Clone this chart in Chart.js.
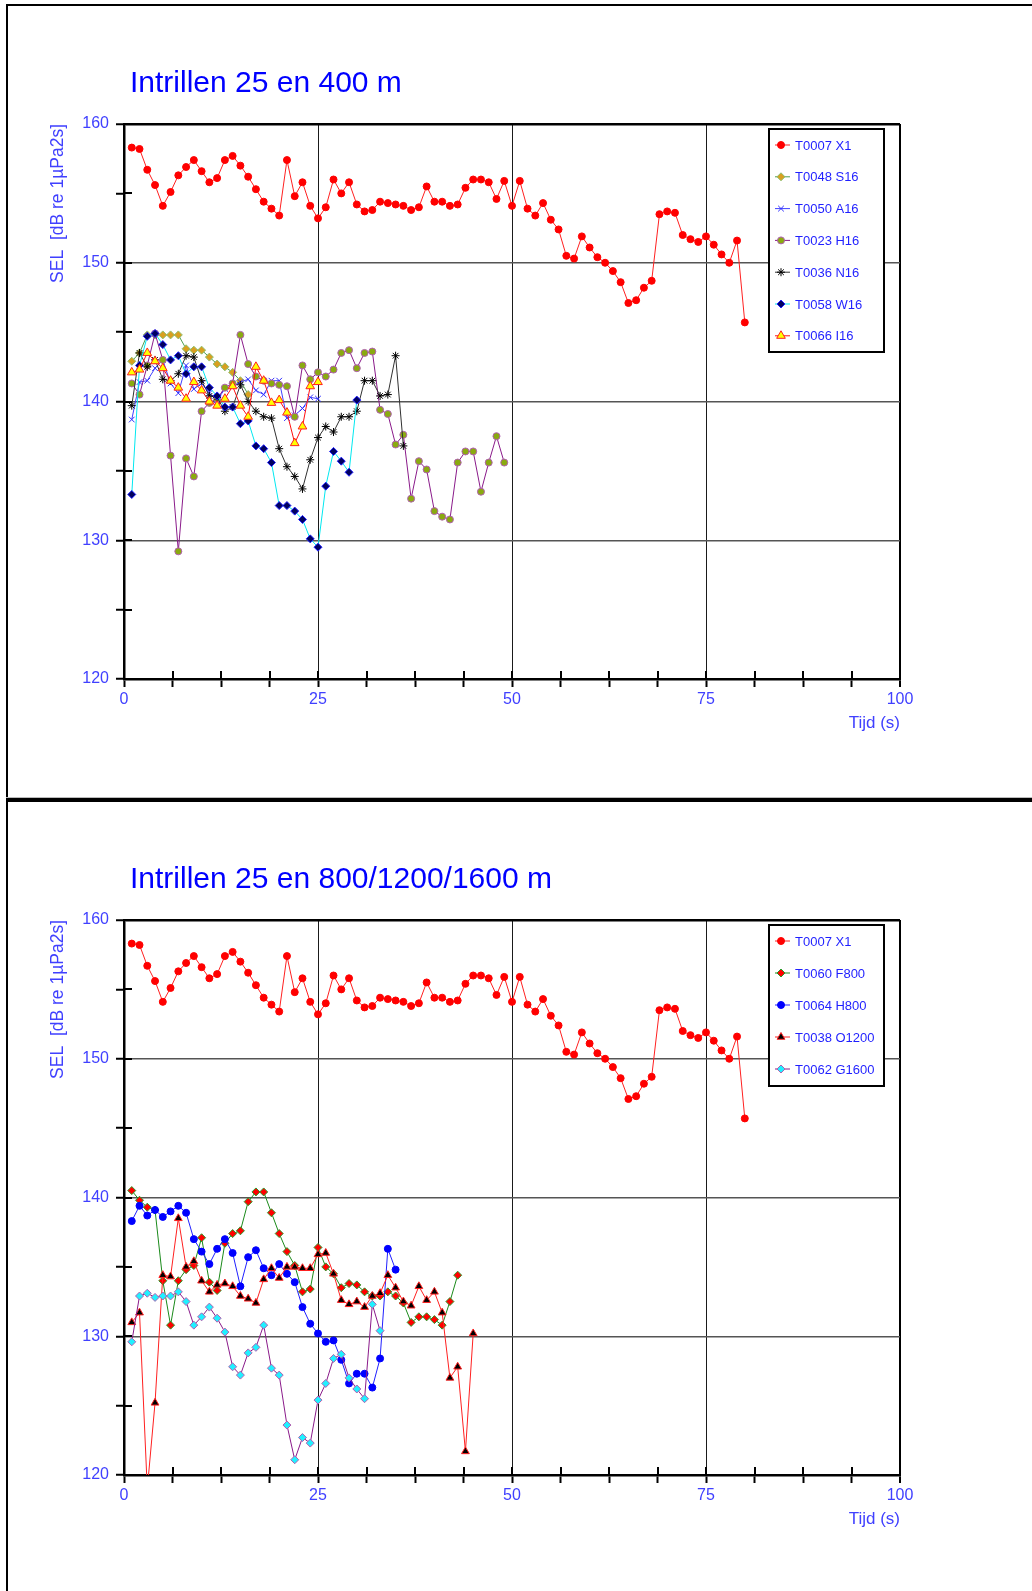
<!DOCTYPE html>
<html>
<head>
<meta charset="utf-8">
<script src="https://cdn.jsdelivr.net/npm/chart.js@4.4.1/dist/chart.umd.min.js"></script>
<style>
    html, body { margin: 0; padding: 0; background: #fff; overflow: hidden; }
    body { width: 1032px; height: 1591px; position: relative; }
    canvas { position: absolute; left: 0; }
    #grafiek1 { top: 0; }
    #grafiek2 { top: 800px; }
    .kader { position: absolute; left: 6px; top: 4px; width: 1200px; height: 1700px;
             border-left: 2px solid #000; border-top: 2px solid #000; pointer-events: none; }
    .scheiding { position: absolute; left: 6px; top: 797px; width: 1200px; height: 4px;
                 background: #000; border-top: 1px solid #bbb; pointer-events: none; }
</style>
</head>
<body>
<div class="kader"></div>
<div class="scheiding"></div>
<canvas id="grafiek1" width="1032" height="800"></canvas>
<canvas id="grafiek2" width="1032" height="791"></canvas>
<script>
// Tijdstippen (s)
const tijd = [1, 2, 3, 4, 5, 6, 7, 8, 9, 10, 11, 12, 13, 14, 15, 16, 17, 18, 19, 20,
    21, 22, 23, 24, 25, 26, 27, 28, 29, 30, 31, 32, 33, 34, 35, 36, 37, 38, 39, 40,
    41, 42, 43, 44, 45, 46, 47, 48, 49, 50, 51, 52, 53, 54, 55, 56, 57, 58, 59, 60,
    61, 62, 63, 64, 65, 66, 67, 68, 69, 70, 71, 72, 73, 74, 75, 76, 77, 78, 79, 80];

// SEL waarden (dB re 1µPa2s)
const t0007X1 = [158.3, 158.2, 156.7, 155.6, 154.1, 155.1, 156.3, 156.9, 157.4, 156.6,
    155.8, 156.1, 157.4, 157.7, 157.0, 156.2, 155.3, 154.4, 153.9, 153.4,
    157.4, 154.8, 155.8, 154.1, 153.2, 154.0, 156.0, 155.0, 155.8, 154.2,
    153.7, 153.8, 154.4, 154.3, 154.2, 154.1, 153.8, 154.0, 155.5, 154.4,
    154.4, 154.1, 154.2, 155.4, 156.0, 156.0, 155.8, 154.6, 155.9, 154.1,
    155.9, 153.9, 153.4, 154.3, 153.1, 152.4, 150.5, 150.3, 151.9, 151.1,
    150.4, 150.0, 149.4, 148.6, 147.1, 147.3, 148.2, 148.7, 153.5, 153.7,
    153.6, 152.0, 151.7, 151.5, 151.9, 151.3, 150.6, 150.0, 151.6, 145.7];

const t0048S16 = [142.9, 143.5, 144.8, 144.8, 144.8, 144.8, 144.8, 143.8, 143.7, 143.7,
    143.2, 142.7, 142.5, 142.1, 141.5, 140.5];

const t0050A16 = [138.7, 141.4, 141.5, 142.4, 143.0, 141.3, 140.6, 142.6, 140.9, 141.3,
    140.6, 140.1, 140.9, 141.1, 141.4, 141.6, 140.8, 140.5, 141.5, 141.5,
    138.8, 139.0, 139.5, 140.3, 140.2];

const t0023H16 = [141.3, 140.5, 142.6, 144.9, 143.0, 136.1, 129.2, 135.9, 134.6, 139.3,
    139.9, 140.2, 141.0, 141.3, 144.8, 142.7, 141.8, 141.5, 141.3, 141.2,
    141.1, 138.9, 142.6, 141.6, 142.1, 141.8, 142.3, 143.5, 143.7, 142.4,
    143.5, 143.6, 139.4, 139.1, 136.9, 137.6, 133.0, 135.7, 135.1, 132.1,
    131.7, 131.5, 135.6, 136.4, 136.4, 133.5, 135.6, 137.5, 135.6];

const t0036N16 = [139.7, 143.5, 142.5, 143.0, 141.6, 141.5, 142.0, 143.3, 143.2, 141.5,
    140.4, 140.3, 139.3, 139.6, 141.2, 140.0, 139.3, 138.9, 138.8, 136.6,
    135.3, 134.6, 133.7, 135.8, 137.4, 138.2, 137.8, 138.9, 138.9, 139.3,
    141.5, 141.5, 140.4, 140.5, 143.3, 136.8];

const t0058W16 = [133.3, 142.6, 144.7, 144.9, 144.1, 143.0, 143.3, 142.0, 142.5, 142.5,
    141.0, 140.4, 139.6, 139.6, 138.4, 138.6, 136.8, 136.6, 135.6, 132.5,
    132.5, 132.1, 131.5, 130.1, 129.5, 133.9, 136.4, 135.7, 134.9, 140.1];

const t0066I16 = [142.1, 142.3, 143.5, 142.9, 142.4, 141.5, 141.0, 140.2, 141.4, 140.8,
    140.0, 139.7, 140.2, 141.1, 139.7, 138.9, 142.5, 141.5, 139.9, 140.1,
    139.2, 137.0, 138.2, 141.1, 141.4];

const t0060F800 = [140.5, 139.8, 139.3, 139.1, 134.0, 130.8, 134.0, 134.8, 135.1, 137.1,
    133.9, 133.3, 136.7, 137.4, 137.6, 139.7, 140.4, 140.4, 138.9, 137.4,
    136.1, 135.1, 133.2, 133.4, 136.4, 135.0, 134.5, 133.5, 133.8, 133.7,
    133.2, 132.9, 132.9, 133.2, 132.9, 132.4, 131.0, 131.4, 131.4, 131.2,
    130.8, 132.5, 134.4];

const t0064H800 = [138.3, 139.4, 138.7, 139.1, 138.6, 139.0, 139.4, 138.9, 137.0, 136.1,
    135.2, 136.3, 137.0, 136.0, 133.6, 135.7, 136.2, 134.9, 134.4, 135.2,
    134.5, 133.9, 132.1, 130.9, 130.2, 129.6, 129.7, 128.3, 126.6, 127.3,
    127.3, 126.3, 128.4, 136.3, 134.8];

const t0038O1200 = [131.0, 131.7, 119.0, 125.2, 134.4, 134.3, 138.5, 135.0, 135.4, 134.0,
    133.2, 133.7, 133.8, 133.6, 132.9, 132.7, 132.4, 134.1, 134.9, 134.2,
    135.0, 135.0, 134.9, 134.9, 135.9, 136.0, 134.5, 132.6, 132.3, 132.5,
    132.1, 132.9, 133.1, 134.4, 133.5, 132.5, 132.2, 133.6, 132.6, 133.2,
    131.7, 127.0, 127.8, 121.7, 130.2];

const t0062G1600 = [129.6, 132.9, 133.1, 132.8, 132.9, 132.9, 133.2, 132.5, 130.8, 131.4,
    132.1, 131.3, 130.3, 127.8, 127.2, 128.8, 129.2, 130.8, 127.7, 127.2,
    123.6, 121.1, 122.7, 122.3, 125.4, 126.6, 128.4, 128.7, 127.0, 126.2,
    125.5, 132.3, 130.4];

// As-verdeling
const xTicks = { min: 0, max: 100, stap: 6.25, label: 25 };
const yTicks = { min: 120, max: 160, stap: 5, label: 10 };

const tekstBlauw = '#4040ff';
const lettertype = '"Liberation Sans", Arial, sans-serif';
Chart.defaults.font.family = lettertype;
Chart.defaults.font.size = 13;

function punten(waarden) {
    return waarden.map((v, i) => ({ x: tijd[i], y: v }));
}

function reeks(label, waarden, lijn, stijl, straal, vulling, rand, randDikte) {
    return {
        label: label,
        data: punten(waarden),
        borderColor: lijn,
        borderWidth: 1,
        pointStyle: stijl,
        pointRadius: straal,
        pointBackgroundColor: vulling,
        pointBorderColor: rand,
        pointBorderWidth: randDikte,
        pointHoverRadius: straal,
        tension: 0,
        clip: { left: 6, top: 6, right: 6, bottom: 0 }
    };
}

// Titel linksboven in het paneel
const titelPlugin = {
    id: 'titel',
    afterDraw(chart, args, opt) {
        const ctx = chart.ctx;
        ctx.save();
        ctx.font = '30px ' + lettertype;
        ctx.fillStyle = '#0000ff';
        ctx.textBaseline = 'alphabetic';
        ctx.fillText(opt.tekst, opt.x, opt.y);
        ctx.restore();
    }
};

// Streepjes die door de as heen steken
const asStreepjes = {
    id: 'asStreepjes',
    afterDraw(chart) {
        const { ctx, chartArea: a, scales: { x, y } } = chart;
        ctx.save();
        ctx.strokeStyle = '#000';
        ctx.lineWidth = 2;
        ctx.beginPath();
        y.ticks.forEach(t => {
            const py = Math.round(y.getPixelForValue(t.value));
            ctx.moveTo(a.left, py);
            ctx.lineTo(a.left + 8, py);
        });
        x.ticks.forEach(t => {
            const px = Math.round(x.getPixelForValue(t.value));
            ctx.moveTo(px, a.bottom);
            ctx.lineTo(px, a.bottom - 8);
        });
        ctx.stroke();
        ctx.restore();
    }
};

// Legenda in een kader binnen het grafiekvlak
const kaderLegenda = {
    id: 'kaderLegenda',
    afterDraw(chart, args, opt) {
        const ctx = chart.ctx;
        ctx.save();
        ctx.fillStyle = '#fff';
        ctx.fillRect(opt.x, opt.y, opt.w, opt.h);
        ctx.lineWidth = 2;
        ctx.strokeStyle = '#000';
        ctx.strokeRect(opt.x, opt.y, opt.w, opt.h);
        chart.data.datasets.forEach((ds, i) => {
            const cy = opt.y + opt.eerste + i * opt.afstand;
            ctx.strokeStyle = ds.borderColor;
            ctx.lineWidth = 1;
            ctx.beginPath();
            ctx.moveTo(opt.x + 6, cy);
            ctx.lineTo(opt.x + 21, cy);
            ctx.stroke();
            ctx.fillStyle = ds.pointBackgroundColor;
            ctx.strokeStyle = ds.pointBorderColor;
            ctx.lineWidth = ds.pointBorderWidth;
            Chart.helpers.drawPoint(ctx, {
                pointStyle: ds.pointStyle,
                radius: ds.pointRadius,
                rotation: 0,
                borderWidth: ds.pointBorderWidth
            }, opt.x + 12, cy);
            ctx.fillStyle = '#1f1fff';
            ctx.font = '13px ' + lettertype;
            ctx.textBaseline = 'middle';
            ctx.textAlign = 'left';
            ctx.fillText(ds.label, opt.x + 26, cy + 1);
        });
        ctx.restore();
    }
};

function maakGrafiek(id, titel, datasets, legenda, boven, onder) {
    // later getekende reeksen liggen bovenop
    datasets.forEach((ds, i) => { ds.order = -i; });
    return new Chart(document.getElementById(id), {
        type: 'line',
        data: { datasets: datasets },
        plugins: [titelPlugin, asStreepjes, kaderLegenda],
        options: {
            responsive: false,
            animation: false,
            events: [],
            layout: { padding: { left: 48, top: boven, right: 132, bottom: onder } },
            plugins: {
                legend: { display: false },
                tooltip: { enabled: false },
                titel: titel,
                kaderLegenda: legenda
            },
            scales: {
                x: {
                    type: 'linear',
                    min: xTicks.min,
                    max: xTicks.max,
                    ticks: {
                        stepSize: xTicks.stap,
                        maxTicksLimit: 40,
                        autoSkip: false,
                        maxRotation: 0,
                        color: tekstBlauw,
                        font: { size: 16 },
                        padding: 3,
                        callback: v => (v % xTicks.label === 0 ? v : '')
                    },
                    grid: {
                        color: c => {
                            const v = c.tick.value;
                            if (v === xTicks.max) return '#000';
                            if (v % xTicks.label === 0 && v !== xTicks.min) return '#1a1a1a';
                            return 'rgba(0,0,0,0)';
                        },
                        lineWidth: c => (c.tick.value === xTicks.max ? 2 : 1),
                        tickLength: 8,
                        tickColor: '#000',
                        tickWidth: 2
                    },
                    border: { color: '#000', width: 2.5 },
                    title: {
                        display: true,
                        text: 'Tijd (s)',
                        align: 'end',
                        color: tekstBlauw,
                        font: { size: 17 },
                        padding: 0
                    },
                    afterFit: s => { s.height = 55; }
                },
                y: {
                    type: 'linear',
                    min: yTicks.min,
                    max: yTicks.max,
                    ticks: {
                        stepSize: yTicks.stap,
                        maxTicksLimit: 40,
                        autoSkip: false,
                        color: tekstBlauw,
                        font: { size: 16 },
                        padding: 7,
                        callback: v => (v % yTicks.label === 0 ? v : '')
                    },
                    grid: {
                        color: c => {
                            const v = c.tick.value;
                            if (v === yTicks.max) return '#000';
                            if (v % yTicks.label === 0 && v !== yTicks.min) return '#555';
                            return 'rgba(0,0,0,0)';
                        },
                        lineWidth: c => (c.tick.value === yTicks.max ? 2.5 : 1.5),
                        tickLength: 8,
                        tickColor: '#000',
                        tickWidth: 2
                    },
                    border: { color: '#000', width: 2.5 },
                    title: {
                        display: true,
                        text: 'SEL  [dB re 1µPa2s]',
                        align: 'end',
                        color: tekstBlauw,
                        font: { size: 17.5 },
                        padding: 0
                    },
                    afterFit: s => { s.width = 76; }
                }
            }
        }
    });
}

maakGrafiek('grafiek1',
    { tekst: 'Intrillen 25 en 400 m', x: 130, y: 92 },
    [
        reeks('T0007 X1', t0007X1, '#ff2020', 'circle', 3.5, '#ff0000', '#ff0000', 1),
        reeks('T0048 S16', t0048S16, '#4f9f4f', 'rectRot', 4, '#d8a020', '#8fbf6f', 1),
        reeks('T0050 A16', t0050A16, '#4040ff', 'crossRot', 4, '#3030ff', '#3030ff', 1),
        reeks('T0023 H16', t0023H16, '#8a1a8a', 'circle', 3.5, '#8aaa10', '#b060b0', 1),
        reeks('T0036 N16', t0036N16, '#303030', 'star', 4, '#000', '#000', 1),
        reeks('T0058 W16', t0058W16, '#00e8f0', 'rectRot', 4, '#000060', '#2020ff', 1),
        reeks('T0066 I16', t0066I16, '#ff1010', 'triangle', 5, '#ffff00', '#ff2020', 1)
    ],
    { x: 769, y: 129, w: 115, h: 223, eerste: 16, afstand: 31.8 },
    124, 66);

maakGrafiek('grafiek2',
    { tekst: 'Intrillen 25 en 800/1200/1600 m', x: 130, y: 88 },
    [
        reeks('T0007 X1', t0007X1, '#ff2020', 'circle', 3.5, '#ff0000', '#ff0000', 1),
        reeks('T0060 F800', t0060F800, '#1a8a1a', 'rectRot', 4, '#ff0000', '#2a9a2a', 1),
        reeks('T0064 H800', t0064H800, '#2020ff', 'circle', 3.5, '#0000ff', '#0000ff', 1),
        reeks('T0038 O1200', t0038O1200, '#ff2020', 'triangle', 4.5, '#000000', '#ff2020', 1),
        reeks('T0062 G1600', t0062G1600, '#8a1a8a', 'rectRot', 4, '#20f0ff', '#b060b0', 1)
    ],
    { x: 769, y: 125, w: 115, h: 161, eerste: 16, afstand: 32 },
    120, 61);
</script>
</body>
</html>
